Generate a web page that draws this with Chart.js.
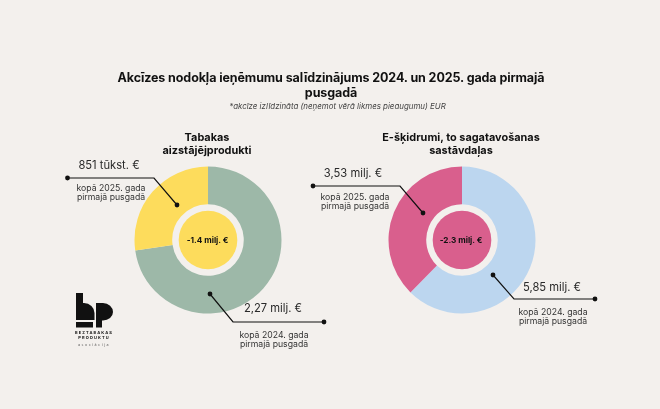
<!DOCTYPE html>
<html>
<head>
  <title>Akcīzes nodokļa ieņēmumu salīdzinājums</title>
  <style>
    html, body { margin: 0; padding: 0; }
    body { width: 660px; height: 409px; background: #f3f0ed; position: relative; overflow: hidden; font-family: Inter, sans-serif; color: #111; }
    canvas, svg { position: absolute; }
    .t { position: absolute; text-align: center; white-space: nowrap; transform: translateX(-50%); }
    #title { left: 331px; top: 70px; font-size: 12.5px; line-height: 15.2px; font-weight: 700; letter-spacing: -0.1px; }
    #note { left: 337.5px; top: 101px; font-size: 7.9px; line-height: 11px; font-style: italic; color: #444; }
    .head { top: 130.5px; font-size: 10.9px; line-height: 13.3px; font-weight: 700; }
    .val { font-size: 11.2px; line-height: 13px; color: #2a2a2a; }
    .sub { font-size: 8.7px; line-height: 8.5px; color: #333; }
    .mid { top: 235px; font-size: 8.2px; line-height: 10px; font-weight: 700; }
    .logo1 { left: 94px; top: 331px; font-size: 4px; line-height: 4.5px; font-weight: 700; letter-spacing: 1.1px; }
    .logo2 { left: 94px; top: 343px; font-size: 3.6px; line-height: 5px; letter-spacing: 1.5px; color: #555; }
  </style>
</head>
<body>

  <canvas id="tobacco_chart" width="150" height="150" style="left:132.5px;top:165px"></canvas>
  <canvas id="liquid_chart" width="150" height="150" style="left:386.5px;top:165px"></canvas>

  <!-- leader lines and logo shape -->
  <svg width="660" height="409" style="left:0;top:0" fill="none" stroke="#111" stroke-width="1.2">
    <polyline points="67.5,178 154,178 177,205" />
    <polyline points="210,294 233,322 324,322" />
    <polyline points="313,186 400,186 423,213" />
    <polyline points="493,275 514,299 595,299" />
    <g fill="#111" stroke="none">
      <circle cx="67.5" cy="178" r="2.4" /><circle cx="177" cy="205" r="2.4" />
      <circle cx="210" cy="294" r="2.4" /><circle cx="324" cy="322" r="2.4" />
      <circle cx="313" cy="186" r="2.4" /><circle cx="423" cy="213" r="2.4" />
      <circle cx="493" cy="275" r="2.4" /><circle cx="595" cy="299" r="2.4" />
      <!-- b -->
      <path d="M76 293h7v10h1a10.5 10 0 0 1 10.5 10v7h-18.5z" />
      <rect x="76" y="322" width="17" height="5.5" />
      <!-- p -->
      <path d="M96 303h7a10 9 0 0 1 10 9v0a10 8.5 0 0 1 -10 8.5h-1v7h-6z" />
    </g>
  </svg>

  <div id="title" class="t">Akcīzes nodokļa ieņēmumu salīdzinājums 2024. un 2025. gada pirmajā<br>pusgadā</div>
  <div id="note" class="t">*akcīze izlīdzināta (neņemot vērā likmes pieaugumu) EUR</div>

  <div class="t head" style="left:207px">Tabakas<br>aizstājējprodukti</div>
  <div class="t head" style="left:461px">E-šķidrumi, to sagatavošanas<br>sastāvdaļas</div>

  <div class="t val" style="left:109px;top:159px">851 tūkst. €</div>
  <div class="t sub" style="left:111px;top:184px">kopā 2025. gada<br>pirmajā pusgadā</div>
  <div class="t val" style="left:273px;top:302px">2,27 milj. €</div>
  <div class="t sub" style="left:274px;top:331px">kopā 2024. gada<br>pirmajā pusgadā</div>

  <div class="t val" style="left:353px;top:167px">3,53 milj. €</div>
  <div class="t sub" style="left:355px;top:193px">kopā 2025. gada<br>pirmajā pusgadā</div>
  <div class="t val" style="left:552px;top:281px">5,85 milj. €</div>
  <div class="t sub" style="left:553px;top:308px">kopā 2024. gada<br>pirmajā pusgadā</div>

  <div class="t mid" style="left:207.5px">-1.4 milj. €</div>
  <div class="t mid" style="left:461px">-2.3 milj. €</div>

  <div class="t logo1">BEZTABAKAS<br>PRODUKTU</div>
  <div class="t logo2">asociācija</div>

  <script src="https://cdnjs.cloudflare.com/ajax/libs/Chart.js/4.4.1/chart.umd.min.js"></script>
  <script>
    // values in million EUR, 2024 half first so it starts at 12 o'clock
    const periods = ["2024. gada pirmais pusgads", "2025. gada pirmais pusgads"];
    const tobaccoValues = [2.27, 0.851];
    const liquidValues = [5.85, 3.53];
    const tobaccoColors = ["#9db8a8", "#fddc5c"];
    const liquidColors = ["#bcd6ef", "#d95f8d"];

    // filled disc in the hole of the doughnut, same colour as the 2025 slice
    const centerDisc = {
      id: "centerDisc",
      afterDatasetsDraw(chart) {
        const arc = chart.getDatasetMeta(0).data[0];
        const ctx = chart.ctx;
        ctx.save();
        ctx.beginPath();
        ctx.arc(arc.x, arc.y, arc.innerRadius * 0.82, 0, Math.PI * 2);
        ctx.fillStyle = chart.data.datasets[0].backgroundColor[1];
        ctx.fill();
        ctx.restore();
      }
    };

    function make_donut(id, values, colors) {
      new Chart(id, {
        type: "doughnut",
        data: {
          labels: periods,
          datasets: [{ data: values, backgroundColor: colors, borderWidth: 0 }]
        },
        options: {
          responsive: false,
          animation: false,
          radius: 73.5,
          cutout: 36.5,
          layout: { padding: 0 },
          plugins: { legend: { display: false }, tooltip: { enabled: false } }
        },
        plugins: [centerDisc]
      });
    }

    make_donut("tobacco_chart", tobaccoValues, tobaccoColors);
    make_donut("liquid_chart", liquidValues, liquidColors);
  </script>

</body>
</html>
